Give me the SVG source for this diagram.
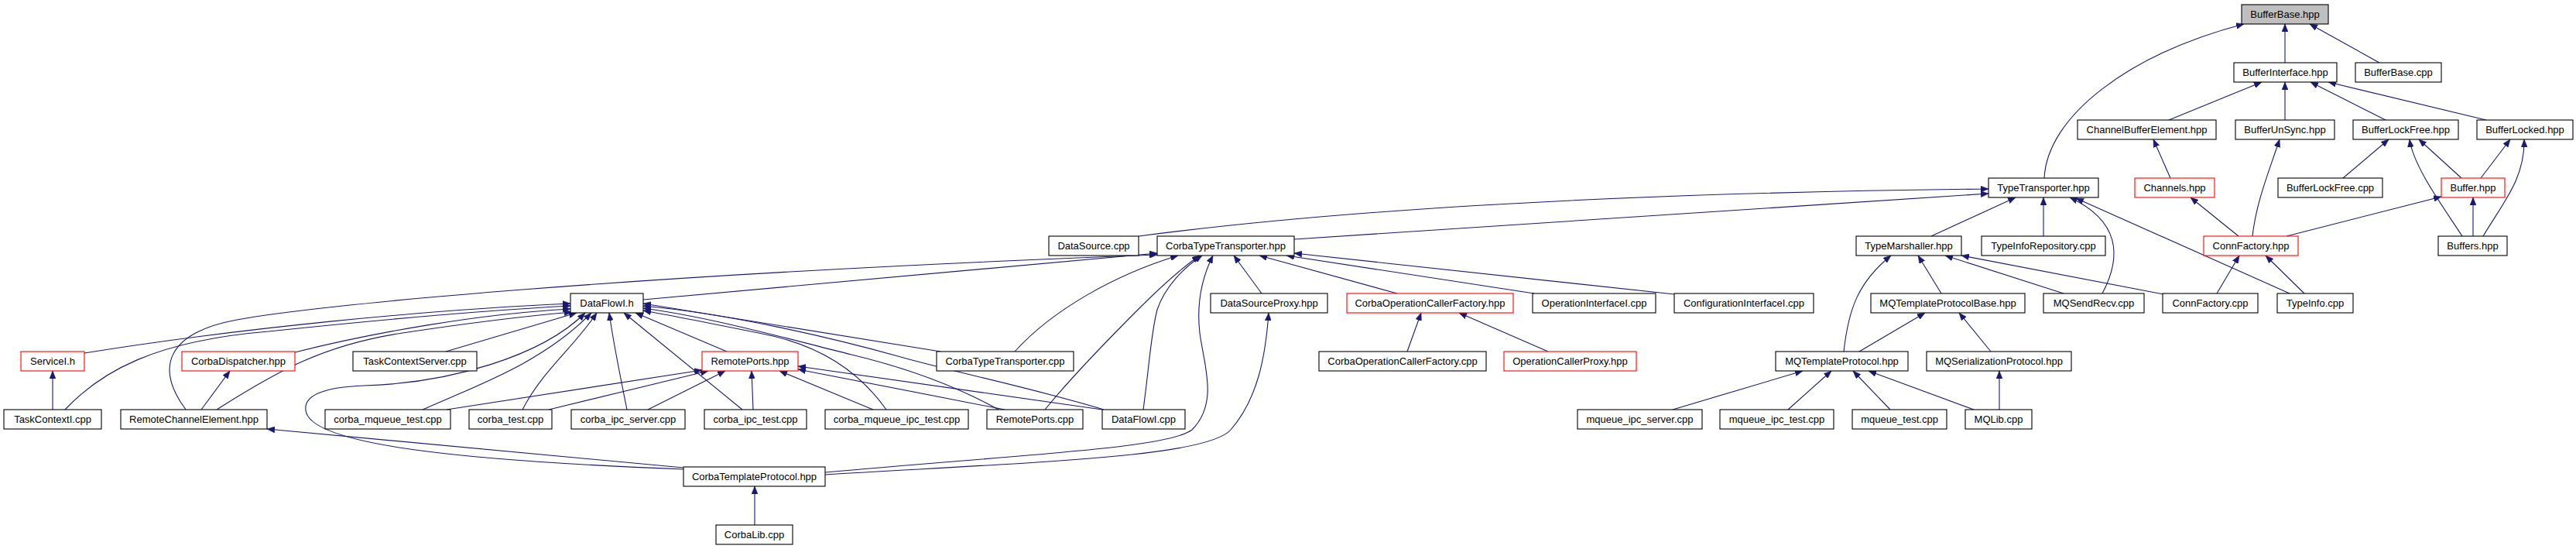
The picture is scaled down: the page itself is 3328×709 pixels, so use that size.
<svg xmlns="http://www.w3.org/2000/svg" width="3328" height="709" viewBox="0 0 3328 709">
<style>
.n rect{fill:#fff;stroke:#000;stroke-width:1.1}
.n.red rect{stroke:#ff0000}
.n.root rect{fill:#bfbfbf}
.n text{font-family:"Liberation Sans",Arial,sans-serif;font-size:13px;text-anchor:middle;fill:#000}
.e path{fill:none;stroke:#191970;stroke-width:1.1;marker-end:url(#ah)}
</style>
<defs>
<marker id="ah" viewBox="0 0 10 8" refX="10" refY="4" markerWidth="10" markerHeight="8" markerUnits="userSpaceOnUse" orient="auto">
<path d="M0,0 L10,4 L0,8 z" fill="#191970" stroke="#191970" stroke-width="0.5"/>
</marker>
</defs>
<rect width="3328" height="709" fill="#fff"/>
<g id="connectors" class="e">
<!-- upper part -->
<path d="M2952,81 L2952,31"/>
<path d="M3074,81 L2984,31"/>
<path d="M2641,230 C2645,150 2750,70 2899,31"/>
<path d="M2802,155 L2922,106"/>
<path d="M2952,155 L2952,106"/>
<path d="M3082,155 L2985,106"/>
<path d="M3212,155 L3008,106"/>
<path d="M2804,230 L2782,180"/>
<path d="M2910,305 C2915,260 2932,220 2945,180"/>
<path d="M3027,230 L3086,180"/>
<path d="M3181,305 C3155,265 3118,215 3113,180"/>
<path d="M3180,230 L3125,180"/>
<path d="M3205,230 L3243,180"/>
<path d="M3208,305 C3235,260 3262,230 3261,180"/>
<path d="M2892,305 L2830,255"/>
<path d="M2954,305 L3154,254"/>
<path d="M3195,305 L3195,255"/>
<!-- TypeTransporter -->
<path d="M1471,305 C1800,262 2200,248 2569,244"/>
<path d="M1672,309 L2569,250"/>
<path d="M2495,305 L2604,255"/>
<path d="M2640,305 L2640,255"/>
<path d="M2716,379 C2742,330 2738,285 2674,255"/>
<path d="M2958,379 L2682,256"/>
<!-- ConnFactory.hpp -->
<path d="M2864,379 L2893,330"/>
<path d="M2977,379 L2927,330"/>
<!-- TypeMarshaller -->
<path d="M2382,454 C2388,400 2400,365 2443,330"/>
<path d="M2508,379 L2478,330"/>
<path d="M2666,379 L2513,330"/>
<path d="M2795,380 L2534,330"/>
<!-- MQ -->
<path d="M2402,454 L2487,404"/>
<path d="M2572,454 L2531,404"/>
<path d="M2161,529 L2329,479"/>
<path d="M2310,529 L2366,479"/>
<path d="M2442,529 L2394,479"/>
<path d="M2550,529 L2414,479"/>
<path d="M2583,529 L2583,479"/>
<!-- CorbaTypeTransporter.hpp -->
<path d="M831,387 L1495,327"/>
<path d="M240,529 C200,475 215,430 306,413 C400,395 800,355 1495,329"/>
<path d="M1311,454 C1360,400 1440,355 1522,330"/>
<path d="M1350,529 C1390,480 1440,430 1470,400 C1500,370 1528,345 1550,330"/>
<path d="M1477,529 C1485,470 1487,430 1495,400 C1505,370 1530,345 1553,330"/>
<path d="M1066,610 C1350,585 1510,578 1540,555 C1575,520 1555,470 1550,430 C1546,395 1552,360 1567,330"/>
<path d="M1630,379 L1594,330"/>
<path d="M1805,379 L1627,330"/>
<path d="M1982,379 L1662,330"/>
<path d="M2163,380 L1672,327"/>
<path d="M1066,613 C1350,596 1560,590 1590,555 C1625,515 1635,460 1639,404"/>
<path d="M1818,454 L1836,404"/>
<path d="M2000,454 L1885,404"/>
<!-- DataFlowI.h -->
<path d="M109,456 C300,425 550,400 737,392"/>
<path d="M84,529 C130,480 200,440 347,428 C500,412 640,400 737,395"/>
<path d="M381,455 C480,430 620,405 737,399"/>
<path d="M280,529 C360,478 420,445 520,430 C600,418 680,408 739,403"/>
<path d="M576,454 L745,404"/>
<path d="M883,606 C600,595 400,575 395,530 C392,510 420,500 470,498 C580,495 700,460 756,404"/>
<path d="M546,529 C610,500 700,470 764,404"/>
<path d="M675,529 C700,480 740,450 771,404"/>
<path d="M810,529 C800,480 792,440 787,404"/>
<path d="M959,529 L806,404"/>
<path d="M939,454 L821,404"/>
<path d="M1145,529 C1110,480 1060,445 980,430 C920,418 870,408 831,401"/>
<path d="M1290,529 C1220,490 1150,470 1100,458 C1020,438 920,410 831,398"/>
<path d="M1426,529 C1330,500 1230,480 1160,460 C1070,435 940,405 831,395"/>
<path d="M1215,454 L831,392"/>
<!-- RemotePorts.hpp -->
<path d="M577,529 L907,478"/>
<path d="M709,529 L915,479"/>
<path d="M837,529 L937,479"/>
<path d="M973,529 L971,479"/>
<path d="M1128,529 L1007,479"/>
<path d="M1298,529 L1031,477"/>
<path d="M1424,529 L1031,473"/>
<!-- misc -->
<path d="M975,678 L975,628"/>
<path d="M883,604 L345,554"/>
<path d="M260,529 L297,479"/>
<path d="M68,529 L68,479"/>
</g>
<g id="n_BufferBase_hpp" class="n root"><rect x="2896" y="6" width="112" height="25"/><text x="2952" y="23">BufferBase.hpp</text></g>
<g id="n_BufferInterface_hpp" class="n"><rect x="2886" y="81" width="133" height="25"/><text x="2952.5" y="98">BufferInterface.hpp</text></g>
<g id="n_BufferBase_cpp" class="n"><rect x="3043" y="81" width="111" height="25"/><text x="3098.5" y="98">BufferBase.cpp</text></g>
<g id="n_ChannelBufferElement_hpp" class="n"><rect x="2684" y="155" width="179" height="25"/><text x="2773.5" y="172">ChannelBufferElement.hpp</text></g>
<g id="n_BufferUnSync_hpp" class="n"><rect x="2888" y="155" width="128" height="25"/><text x="2952" y="172">BufferUnSync.hpp</text></g>
<g id="n_BufferLockFree_hpp" class="n"><rect x="3040" y="155" width="136" height="25"/><text x="3108" y="172">BufferLockFree.hpp</text></g>
<g id="n_BufferLocked_hpp" class="n"><rect x="3200" y="155" width="124" height="25"/><text x="3262" y="172">BufferLocked.hpp</text></g>
<g id="n_TypeTransporter_hpp" class="n"><rect x="2569" y="230" width="142" height="25"/><text x="2640" y="247">TypeTransporter.hpp</text></g>
<g id="n_Channels_hpp" class="n red"><rect x="2758" y="230" width="103" height="25"/><text x="2809.5" y="247">Channels.hpp</text></g>
<g id="n_BufferLockFree_cpp" class="n"><rect x="2943" y="230" width="135" height="25"/><text x="3010.5" y="247">BufferLockFree.cpp</text></g>
<g id="n_Buffer_hpp" class="n red"><rect x="3154" y="230" width="82" height="25"/><text x="3195" y="247">Buffer.hpp</text></g>
<g id="n_DataSource_cpp" class="n"><rect x="1355" y="305" width="116" height="25"/><text x="1413" y="322">DataSource.cpp</text></g>
<g id="n_CorbaTypeTransporter_hpp" class="n"><rect x="1495" y="305" width="177" height="25"/><text x="1583.5" y="322">CorbaTypeTransporter.hpp</text></g>
<g id="n_TypeMarshaller_hpp" class="n"><rect x="2398" y="305" width="136" height="25"/><text x="2466" y="322">TypeMarshaller.hpp</text></g>
<g id="n_TypeInfoRepository_cpp" class="n"><rect x="2560" y="305" width="160" height="25"/><text x="2640" y="322">TypeInfoRepository.cpp</text></g>
<g id="n_ConnFactory_hpp" class="n red"><rect x="2847" y="305" width="122" height="25"/><text x="2908" y="322">ConnFactory.hpp</text></g>
<g id="n_Buffers_hpp" class="n"><rect x="3150" y="305" width="89" height="25"/><text x="3194.5" y="322">Buffers.hpp</text></g>
<g id="n_DataFlowI_h" class="n"><rect x="737" y="379" width="94" height="25"/><text x="784" y="396">DataFlowI.h</text></g>
<g id="n_DataSourceProxy_hpp" class="n"><rect x="1564" y="379" width="151" height="25"/><text x="1639.5" y="396">DataSourceProxy.hpp</text></g>
<g id="n_CorbaOperationCallerFactory_hpp" class="n red"><rect x="1740" y="379" width="215" height="25"/><text x="1847.5" y="396">CorbaOperationCallerFactory.hpp</text></g>
<g id="n_OperationInterfaceI_cpp" class="n"><rect x="1980" y="379" width="159" height="25"/><text x="2059.5" y="396">OperationInterfaceI.cpp</text></g>
<g id="n_ConfigurationInterfaceI_cpp" class="n"><rect x="2163" y="379" width="180" height="25"/><text x="2253" y="396">ConfigurationInterfaceI.cpp</text></g>
<g id="n_MQTemplateProtocolBase_hpp" class="n"><rect x="2417" y="379" width="199" height="25"/><text x="2516.5" y="396">MQTemplateProtocolBase.hpp</text></g>
<g id="n_MQSendRecv_cpp" class="n"><rect x="2640" y="379" width="130" height="25"/><text x="2705" y="396">MQSendRecv.cpp</text></g>
<g id="n_ConnFactory_cpp" class="n"><rect x="2794" y="379" width="123" height="25"/><text x="2855.5" y="396">ConnFactory.cpp</text></g>
<g id="n_TypeInfo_cpp" class="n"><rect x="2942" y="379" width="98" height="25"/><text x="2991" y="396">TypeInfo.cpp</text></g>
<g id="n_ServiceI_h" class="n red"><rect x="27" y="454" width="82" height="25"/><text x="68" y="471">ServiceI.h</text></g>
<g id="n_CorbaDispatcher_hpp" class="n red"><rect x="235" y="454" width="146" height="25"/><text x="308" y="471">CorbaDispatcher.hpp</text></g>
<g id="n_TaskContextServer_cpp" class="n"><rect x="456" y="454" width="160" height="25"/><text x="536" y="471">TaskContextServer.cpp</text></g>
<g id="n_RemotePorts_hpp" class="n red"><rect x="907" y="454" width="124" height="25"/><text x="969" y="471">RemotePorts.hpp</text></g>
<g id="n_CorbaTypeTransporter_cpp" class="n"><rect x="1210" y="454" width="177" height="25"/><text x="1298.5" y="471">CorbaTypeTransporter.cpp</text></g>
<g id="n_CorbaOperationCallerFactory_cpp" class="n"><rect x="1704" y="454" width="216" height="25"/><text x="1812" y="471">CorbaOperationCallerFactory.cpp</text></g>
<g id="n_OperationCallerProxy_hpp" class="n red"><rect x="1943" y="454" width="171" height="25"/><text x="2028.5" y="471">OperationCallerProxy.hpp</text></g>
<g id="n_MQTemplateProtocol_hpp" class="n"><rect x="2294" y="454" width="171" height="25"/><text x="2379.5" y="471">MQTemplateProtocol.hpp</text></g>
<g id="n_MQSerializationProtocol_hpp" class="n"><rect x="2489" y="454" width="187" height="25"/><text x="2582.5" y="471">MQSerializationProtocol.hpp</text></g>
<g id="n_TaskContextI_cpp" class="n"><rect x="5" y="529" width="126" height="25"/><text x="68" y="546">TaskContextI.cpp</text></g>
<g id="n_RemoteChannelElement_hpp" class="n"><rect x="156" y="529" width="189" height="25"/><text x="250.5" y="546">RemoteChannelElement.hpp</text></g>
<g id="n_corba_mqueue_test_cpp" class="n"><rect x="420" y="529" width="162" height="25"/><text x="501" y="546">corba_mqueue_test.cpp</text></g>
<g id="n_corba_test_cpp" class="n"><rect x="606" y="529" width="107" height="25"/><text x="659.5" y="546">corba_test.cpp</text></g>
<g id="n_corba_ipc_server_cpp" class="n"><rect x="738" y="529" width="147" height="25"/><text x="811.5" y="546">corba_ipc_server.cpp</text></g>
<g id="n_corba_ipc_test_cpp" class="n"><rect x="910" y="529" width="132" height="25"/><text x="976" y="546">corba_ipc_test.cpp</text></g>
<g id="n_corba_mqueue_ipc_test_cpp" class="n"><rect x="1066" y="529" width="185" height="25"/><text x="1158.5" y="546">corba_mqueue_ipc_test.cpp</text></g>
<g id="n_RemotePorts_cpp" class="n"><rect x="1275" y="529" width="124" height="25"/><text x="1337" y="546">RemotePorts.cpp</text></g>
<g id="n_DataFlowI_cpp" class="n"><rect x="1424" y="529" width="107" height="25"/><text x="1477.5" y="546">DataFlowI.cpp</text></g>
<g id="n_mqueue_ipc_server_cpp" class="n"><rect x="2038" y="529" width="161" height="25"/><text x="2118.5" y="546">mqueue_ipc_server.cpp</text></g>
<g id="n_mqueue_ipc_test_cpp" class="n"><rect x="2222" y="529" width="147" height="25"/><text x="2295.5" y="546">mqueue_ipc_test.cpp</text></g>
<g id="n_mqueue_test_cpp" class="n"><rect x="2393" y="529" width="122" height="25"/><text x="2454" y="546">mqueue_test.cpp</text></g>
<g id="n_MQLib_cpp" class="n"><rect x="2539" y="529" width="86" height="25"/><text x="2582" y="546">MQLib.cpp</text></g>
<g id="n_CorbaTemplateProtocol_hpp" class="n"><rect x="883" y="603" width="183" height="25"/><text x="974.5" y="620">CorbaTemplateProtocol.hpp</text></g>
<g id="n_CorbaLib_cpp" class="n"><rect x="925" y="678" width="99" height="25"/><text x="974.5" y="695">CorbaLib.cpp</text></g>
</svg>
